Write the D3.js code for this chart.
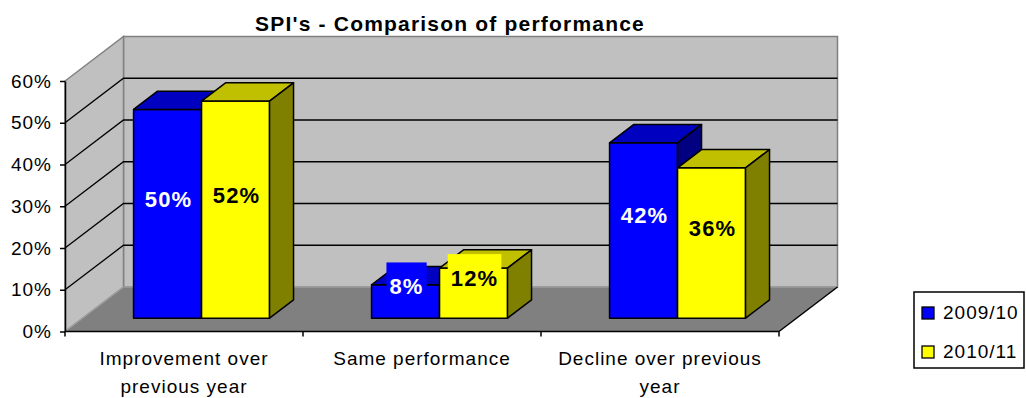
<!DOCTYPE html>
<html>
<head>
<meta charset="utf-8">
<script src="https://cdn.jsdelivr.net/npm/d3@7"></script>
<style>
  html, body { margin: 0; padding: 0; background: #fff; }
  svg { display: block; }
  text { font-family: "Liberation Sans", Arial, sans-serif; }
</style>
</head>
<body>
<svg id="chart" width="1026" height="398"></svg>
<script>
// ---------- data ----------
const title = "SPI's - Comparison of performance";
const categories = ["Improvement over previous year", "Same performance", "Decline over previous year"];
const categoryLines = [["Improvement over", "previous year"], ["Same performance"], ["Decline over previous", "year"]];
const seriesNames = ["2009/10", "2010/11"];
const values2009 = [0.50, 0.08, 0.42];
const values2010 = [0.52, 0.12, 0.36];
const yTicks = [0, 0.1, 0.2, 0.3, 0.4, 0.5, 0.6];

// ---------- styles ----------
const palette = {
  "2009/10": { front: "#0000ff", top: "#0000c0", side: "#000080", label: "#ffffff" },
  "2010/11": { front: "#ffff00", top: "#c0c000", side: "#808000", label: "#000000" }
};
const seriesValues = [values2009, values2010];

const svg = d3.select("#chart");

// ---------- geometry ----------
const pLeft = 65, pRight = 779, pBottom = 331.5, pTop = 81;
const DX = 58.5, DY = -44.5;          // full depth offset of the floor / walls
const z0 = 0.3, z1 = 0.71;            // depth range of the bars

const y = d3.scaleLinear().domain([0, 0.6]).range([pBottom, pTop]);
const x = d3.scaleBand().domain(categories).range([pLeft, pRight]).padding(0);
const bw = x.bandwidth();
const barW = bw * 0.2857;

const P = (px, v, z) => [px + DX * z, y(v) + DY * z];
const poly = pts => "M" + pts.map(p => p.join(",")).join("L") + "Z";
const line2 = (a, b) => "M" + a.join(",") + "L" + b.join(",");

// ---------- walls & floor ----------
const ymax = y.domain()[1];
const g = svg.append("g");
// back wall
g.append("path")
  .attr("d", poly([P(pLeft, 0, 1), P(pRight, 0, 1), P(pRight, ymax, 1), P(pLeft, ymax, 1)]))
  .attr("fill", "#c0c0c0").attr("stroke", "#808080").attr("stroke-width", 1.5);
// left wall
g.append("path")
  .attr("d", poly([P(pLeft, 0, 0), P(pLeft, 0, 1), P(pLeft, ymax, 1), P(pLeft, ymax, 0)]))
  .attr("fill", "#c0c0c0").attr("stroke", "#808080").attr("stroke-width", 1.5);
// floor
g.append("path")
  .attr("d", poly([P(pLeft, 0, 0), P(pRight, 0, 0), P(pRight, 0, 1), P(pLeft, 0, 1)]))
  .attr("fill", "#808080").attr("stroke", "none");
g.append("path").attr("d", line2(P(pLeft, 0, 1), P(pRight, 0, 1)))
  .attr("fill", "none").attr("stroke", "#a8a8a8").attr("stroke-width", 1);
g.append("path").attr("d", line2(P(pLeft, 0, 0), P(pLeft, 0, 1)))
  .attr("fill", "none").attr("stroke", "#a0a0a0").attr("stroke-width", 1.2);
g.append("path").attr("d", line2(P(pRight, 0, 0), P(pRight, 0, 1)))
  .attr("fill", "none").attr("stroke", "#000").attr("stroke-width", 1.5);

// gridlines
const grid = yTicks.filter(t => t > 0 && t < ymax);
grid.forEach(t => {
  g.append("path")
    .attr("d", "M" + P(pLeft, t, 0).join(",") + "L" + P(pLeft, t, 1).join(",") + "L" + P(pRight, t, 1).join(","))
    .attr("fill", "none").attr("stroke", "#000").attr("stroke-width", 1.3);
});

// ---------- bars ----------
const bars = [];
categories.forEach((c, ci) => {
  const cx = x(c) + bw / 2;
  const sub = d3.scaleBand().domain(seriesNames).range([cx - barW, cx + barW]).padding(0);
  seriesNames.forEach((s, si) => {
    bars.push({ c, s, v: seriesValues[si][ci], x0: sub(s), x1: sub(s) + sub.bandwidth() });
  });
});

const bg = svg.append("g");
bars.forEach(b => {
  const col = palette[b.s];
  bg.append("path")
    .attr("d", poly([P(b.x0, 0, z0), P(b.x1, 0, z0), P(b.x1, b.v, z0), P(b.x0, b.v, z0)]))
    .attr("fill", col.front).attr("stroke", "#000").attr("stroke-width", 1.5).attr("stroke-linejoin", "round");
  bg.append("path")
    .attr("d", poly([P(b.x0, b.v, z0), P(b.x1, b.v, z0), P(b.x1, b.v, z1), P(b.x0, b.v, z1)]))
    .attr("fill", col.top).attr("stroke", "#000").attr("stroke-width", 1.5).attr("stroke-linejoin", "round");
  bg.append("path")
    .attr("d", poly([P(b.x1, 0, z0), P(b.x1, 0, z1), P(b.x1, b.v, z1), P(b.x1, b.v, z0)]))
    .attr("fill", col.side).attr("stroke", "#000").attr("stroke-width", 1.5).attr("stroke-linejoin", "round");
});

// ---------- data labels ----------
const lg = svg.append("g");
bars.forEach(b => {
  const col = palette[b.s];
  const fx = (P(b.x0, 0, z0)[0] + P(b.x1, 0, z0)[0]) / 2 + 1;
  const fy = (P(b.x0, 0, z0)[1] + P(b.x0, b.v, z0)[1]) / 2 - 15;
  const grp = lg.append("g");
  const rect = grp.append("rect").attr("fill", col.front);
  const t = grp.append("text")
    .attr("x", fx).attr("y", fy + 8)
    .attr("text-anchor", "middle")
    .attr("font-size", 22).attr("font-weight", "bold")
    .attr("letter-spacing", 1.2)
    .attr("fill", col.label)
    .text(d3.format(".0%")(b.v));
  const bb = t.node().getBBox();
  rect.attr("x", bb.x - 3).attr("width", bb.width + 6)
      .attr("y", fy - 24).attr("height", 36);
});

// ---------- value axis ----------
const yAxis = d3.axisLeft(y).tickValues(yTicks).tickFormat(d3.format(".0%"))
  .tickSize(5).tickSizeOuter(0).tickPadding(8);
const ya = svg.append("g").attr("transform", `translate(${pLeft},0)`).call(yAxis);
ya.select(".domain").attr("stroke", "#000").attr("stroke-width", 1.5);
ya.selectAll(".tick line").attr("stroke", "#000").attr("stroke-width", 1.5);
ya.selectAll(".tick text")
  .attr("font-family", "Liberation Sans, Arial, sans-serif")
  .attr("font-size", 19).attr("letter-spacing", 1).attr("fill", "#000");

// ---------- category axis ----------
const xa = svg.append("g");
xa.append("line").attr("x1", pLeft).attr("x2", pRight).attr("y1", y(0)).attr("y2", y(0))
  .attr("stroke", "#000").attr("stroke-width", 1.5);
const edges = categories.map(c => x(c)).concat([x(categories[categories.length - 1]) + bw]);
edges.forEach(e => {
  xa.append("line").attr("x1", e).attr("x2", e).attr("y1", y(0)).attr("y2", y(0) + 5)
    .attr("stroke", "#000").attr("stroke-width", 1.5);
});
categories.forEach((c, ci) => {
  const t = xa.append("text")
    .attr("x", x(c) + bw / 2).attr("y", 365)
    .attr("text-anchor", "middle").attr("font-size", 19).attr("letter-spacing", 1)
    .attr("fill", "#000");
  categoryLines[ci].forEach((ln, li) => {
    t.append("tspan").attr("x", x(c) + bw / 2).attr("dy", li === 0 ? 0 : 27.5).text(ln);
  });
});

// ---------- title ----------
svg.append("text")
  .attr("x", 450).attr("y", 31)
  .attr("text-anchor", "middle")
  .attr("font-size", 21).attr("font-weight", "bold").attr("letter-spacing", 1.2)
  .attr("fill", "#000")
  .text(title);

// ---------- legend ----------
const leg = svg.append("g");
leg.append("rect").attr("x", 914).attr("y", 292).attr("width", 110).attr("height", 76)
  .attr("fill", "#fff").attr("stroke", "#000").attr("stroke-width", 1.5);
seriesNames.forEach((s, i) => {
  const yy = 319 + i * 39;
  leg.append("rect").attr("x", 922).attr("y", yy - 12).attr("width", 12).attr("height", 12)
    .attr("fill", palette[s].front).attr("stroke", "#000").attr("stroke-width", 1.3);
  leg.append("text").attr("x", 943).attr("y", yy)
    .attr("font-size", 19).attr("letter-spacing", 1).attr("fill", "#000").text(s);
});
</script>
</body>
</html>
